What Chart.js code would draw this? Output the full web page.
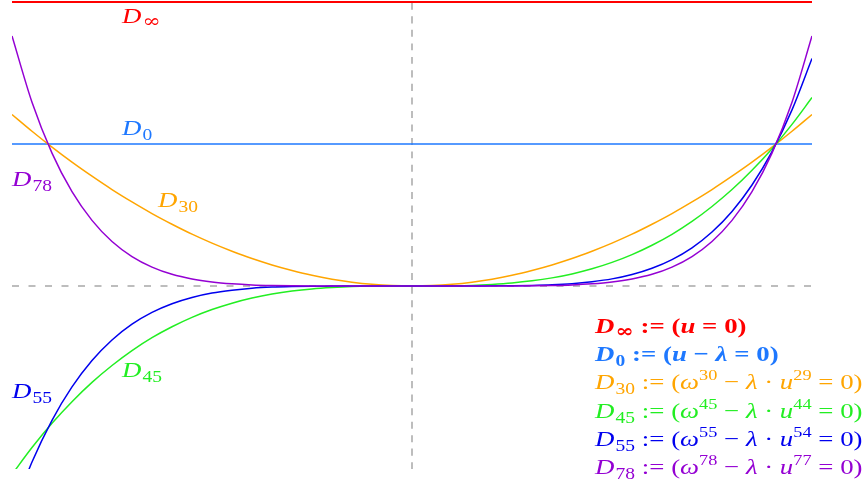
<!DOCTYPE html>
<html>
<head>
<meta charset="utf-8">
<script src="https://cdn.jsdelivr.net/npm/chart.js@4/dist/chart.umd.min.js"></script>
<style>
  html, body { margin: 0; padding: 0; background: #ffffff; }
  #wrap { width: 865px; height: 487px; }
</style>
</head>
<body>
<div id="wrap"><canvas id="c" width="865" height="487"></canvas></div>
<script>
// Sample positions along u (shared by every curve)
const xValues = [-1, -0.95, -0.9, -0.85, -0.8, -0.75, -0.7, -0.65, -0.6, -0.55, -0.5, -0.45, -0.4, -0.35, -0.3, -0.25, -0.2, -0.15, -0.1, -0.05, 0,
                 0.05, 0.1, 0.15, 0.2, 0.25, 0.3, 0.35, 0.4, 0.45, 0.5, 0.55, 0.6, 0.65, 0.7, 0.75, 0.8, 0.85, 0.9, 0.95, 1];

// Level lines
const levelInf = 2;
const levelZero = 1;

// Curve values
const d30 = [1.208, 1.090, 0.978, 0.872, 0.773, 0.679, 0.592, 0.510, 0.435, 0.365, 0.302, 0.245, 0.193, 0.148, 0.109, 0.075, 0.048, 0.027, 0.012, 0.003, 0,
             0.003, 0.012, 0.027, 0.048, 0.075, 0.109, 0.148, 0.193, 0.245, 0.302, 0.365, 0.435, 0.510, 0.592, 0.679, 0.773, 0.872, 0.978, 1.090, 1.208];
const d45 = [-1.327, -1.138, -0.967, -0.815, -0.679, -0.560, -0.455, -0.364, -0.287, -0.221, -0.166, -0.121, -0.085, -0.057, -0.036, -0.021, -0.011, -0.004, -0.001, 0.000, 0,
             0.000, 0.001, 0.004, 0.011, 0.021, 0.036, 0.057, 0.085, 0.121, 0.166, 0.221, 0.287, 0.364, 0.455, 0.560, 0.679, 0.815, 0.967, 1.138, 1.327];
const d55 = [-1.602, -1.240, -0.946, -0.711, -0.525, -0.380, -0.269, -0.186, -0.125, -0.081, -0.050, -0.030, -0.016, -0.008, -0.004, -0.002, -0.001, 0.000, 0.000, 0.000, 0,
             0.000, 0.000, 0.000, 0.001, 0.002, 0.004, 0.008, 0.016, 0.030, 0.050, 0.081, 0.125, 0.186, 0.269, 0.380, 0.525, 0.711, 0.946, 1.240, 1.602];
const d78 = [1.761, 1.294, 0.936, 0.664, 0.462, 0.313, 0.207, 0.133, 0.082, 0.049, 0.028, 0.015, 0.007, 0.003, 0.001, 0.000, 0.000, 0.000, 0.000, 0.000, 0,
             0.000, 0.000, 0.000, 0.000, 0.000, 0.001, 0.003, 0.007, 0.015, 0.028, 0.049, 0.082, 0.133, 0.207, 0.313, 0.462, 0.664, 0.936, 1.294, 1.761];

// Axis extents
const xRange = [-1, 1];
const yRange = [-1.289, 2];

const colors = {
  inf: '#ff0000',
  zero: '#1e78ff',
  d30: '#ffa500',
  d45: '#22ee22',
  d55: '#0000ee',
  d78: '#9400d3',
  guide: '#bdbdbd'
};

const pts = ys => xValues.map((x, i) => ({ x: x, y: ys[i] }));

const serif = '"Liberation Serif", "DejaVu Serif", serif';
const textStretch = 1.22; // typeset text is set slightly wide

// Draws a run of math-like pieces: [text, kind]; kind: i = italic, r = roman,
// sub / sup = small roman digits, inf = subscript infinity
function drawMath(ctx, parts, x0, y, color, bold) {
  ctx.save();
  ctx.translate(x0, y);
  ctx.scale(textStretch, 1);
  ctx.fillStyle = color;
  ctx.textBaseline = 'alphabetic';
  ctx.textAlign = 'left';
  const w = bold ? 'bold ' : '';
  let x = 0;
  for (const [t, k] of parts) {
    let font, dy = 0;
    if (k === 'i') font = `italic ${w}22px ${serif}`;
    else if (k === 'r') font = `${w}22px ${serif}`;
    else if (k === 'sub') { font = `${w}16px ${serif}`; dy = 5; x += 1; }
    else if (k === 'sup') { font = `${w}15px ${serif}`; dy = -9; }
    else if (k === 'inf') { font = `${w}18px "DejaVu Serif", serif`; dy = 4; x += 1; }
    ctx.font = font;
    ctx.fillText(t, x, dy);
    x += ctx.measureText(t).width;
  }
  ctx.restore();
}

const curveLabels = [
  { parts: [['D', 'i'], ['\u221e', 'inf']], x: 122, y: 23, color: colors.inf },
  { parts: [['D', 'i'], ['0', 'sub']], x: 122, y: 135, color: colors.zero },
  { parts: [['D', 'i'], ['78', 'sub']], x: 12, y: 186, color: colors.d78 },
  { parts: [['D', 'i'], ['30', 'sub']], x: 158, y: 207, color: colors.d30 },
  { parts: [['D', 'i'], ['45', 'sub']], x: 122, y: 377, color: colors.d45 },
  { parts: [['D', 'i'], ['55', 'sub']], x: 12, y: 398, color: colors.d55 }
];

const eq = (n, m) => [['D', 'i'], [n, 'sub'], [' := (', 'r'], ['\u03c9', 'i'], [n, 'sup'], [' \u2212 ', 'r'], ['\u03bb', 'i'], [' \u00b7 ', 'r'], ['u', 'i'], [m, 'sup'], [' = 0)', 'r']];

const legendRows = [
  { parts: [['D', 'i'], ['\u221e', 'inf'], [' := (', 'r'], ['u', 'i'], [' = 0)', 'r']], color: colors.inf, bold: true },
  { parts: [['D', 'i'], ['0', 'sub'], [' := (', 'r'], ['u', 'i'], [' \u2212 ', 'r'], ['\u03bb', 'i'], [' = 0)', 'r']], color: colors.zero, bold: true },
  { parts: eq('30', '29'), color: colors.d30 },
  { parts: eq('45', '44'), color: colors.d45 },
  { parts: eq('55', '54'), color: colors.d55 },
  { parts: eq('78', '77'), color: colors.d78 }
];

const textPlugin = {
  id: 'mathText',
  afterDraw(chart) {
    const ctx = chart.ctx;
    curveLabels.forEach(l => drawMath(ctx, l.parts, l.x, l.y, l.color, false));
    legendRows.forEach((r, i) => drawMath(ctx, r.parts, 595, 333 + i * 28.2, r.color, !!r.bold));
  }
};

const line = (data, color, extra) => Object.assign({
  data: data,
  borderColor: color,
  borderWidth: 1.5,
  pointRadius: 0,
  fill: false,
  cubicInterpolationMode: 'monotone'
}, extra || {});

new Chart(document.getElementById('c'), {
  type: 'line',
  data: {
    datasets: [
      line(pts(d78), colors.d78),
      line(pts(d55), colors.d55),
      line(pts(d45), colors.d45),
      line(pts(d30), colors.d30),
      line([{ x: xRange[0], y: levelZero }, { x: xRange[1], y: levelZero }], colors.zero),
      line([{ x: xRange[0], y: levelInf }, { x: xRange[1], y: levelInf }], colors.inf, { borderWidth: 2, clip: 4 }),
      line([{ x: xRange[0], y: 0 }, { x: xRange[1], y: 0 }], colors.guide, { borderWidth: 2, borderDash: [7, 9.5] }),
      line([{ x: 0, y: yRange[0] }, { x: 0, y: yRange[1] }], colors.guide, { borderWidth: 2, borderDash: [7, 6.5] })
    ]
  },
  options: {
    responsive: false,
    animation: false,
    events: [],
    layout: { padding: { left: 12, right: 53, top: 2, bottom: 18 } },
    plugins: { legend: { display: false }, tooltip: { enabled: false } },
    scales: {
      x: { type: 'linear', min: xRange[0], max: xRange[1], display: false },
      y: { type: 'linear', min: yRange[0], max: yRange[1], display: false }
    }
  },
  plugins: [textPlugin]
});
</script>
</body>
</html>
